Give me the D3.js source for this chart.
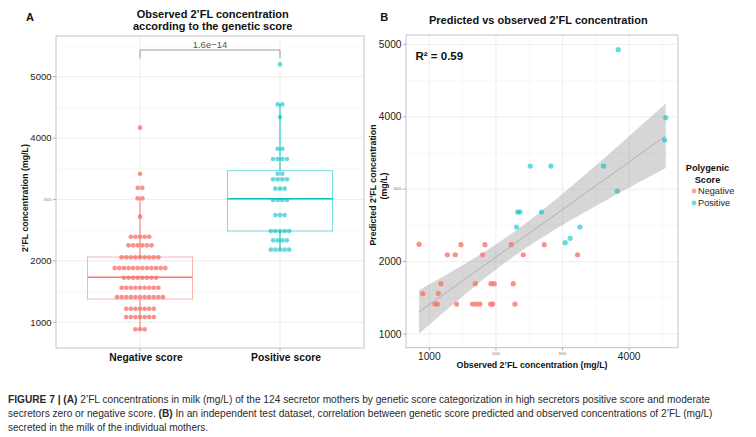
<!DOCTYPE html>
<html>
<head>
<meta charset="utf-8">
<script src="https://cdn.jsdelivr.net/npm/d3@7/dist/d3.min.js"></script>
<style>
  html, body { margin: 0; padding: 0; background: #fff; }
  svg { display: block; font-family: "Liberation Sans", Arial, Helvetica, sans-serif; }
</style>
</head>
<body>
<svg id="chart" width="756" height="437"></svg>
<script>
// ---------------- Data ----------------
// Panel A: dot-plot bins (bin centre in mg/L, number of mothers in the bin)
const groupsA = ["Negative score", "Positive score"];
const negBinValues = [4170, 3420, 3190, 3020, 2720, 2394, 2254, 2059, 1884, 1726, 1563, 1412, 1221, 1086, 886];
const negBinCounts = [1, 1, 2, 2, 1, 5, 6, 9, 12, 8, 9, 11, 7, 7, 3];
const posBinValues = [5200, 4550, 4343, 3827, 3660, 3420, 3329, 3176, 2992, 2747, 2487, 2336, 2183];
const posBinCounts = [1, 2, 1, 2, 4, 2, 4, 3, 4, 3, 5, 4, 5];
// Box statistics: [lower whisker, Q1, median, Q3, upper whisker]
const negBox = [886, 1379, 1733, 2063, 3020];
const posBox = [2183, 2487, 3013, 3470, 4550];
const pValueLabel = "1.6e\u221214";
const yTicksA = [1000, 2000, 3000, 4000, 5000];

// Panel B: observed (x) vs predicted (y) concentration
const obsNeg = [846, 901, 1270, 1390, 1475, 1175, 1135, 1085, 1120, 1410, 1800, 1835, 1690, 1650, 1710, 1760, 1925, 1975, 1920, 1950, 2230, 2260, 2285, 2410, 2725, 3225];
const predNeg = [2239, 1557, 2095, 2095, 2234, 1695, 1562, 1414, 1414, 1414, 2095, 2234, 1695, 1414, 1414, 1414, 1695, 1695, 1414, 1414, 2234, 1695, 1414, 2095, 2234, 2095];
const obsPos = [2325, 2360, 2310, 2685, 3040, 3115, 3260, 3820, 2515, 2825, 3615, 3835, 4549, 4534];
const predPos = [2685, 2685, 2478, 2685, 2261, 2322, 2478, 2975, 3320, 3320, 3320, 4927, 3988, 3680];
const xTicksB = [1000, 2000, 3000, 4000];
const yTicksB = [1000, 2000, 3000, 4000, 5000];
const legendLabels = ["Negative", "Positive"];
const r2Label = "R\u00b2 = 0.59";

// ---------------- Styles ----------------
const RED = "#F8766D", TEAL = "#00BFC4";
const GRID = "#ebebeb", GRID_MINOR = "#f4f4f4", BORDER = "#c4c4c4", TICK = "#b3b3b3";
const svg = d3.select("#chart");

function tinyOrNormal(v, tiny) { return tiny.includes(v); }

// ================= PANEL A =================
const A = { left: 56, right: 364, top: 36, bottom: 348 };
const yA = d3.scaleLinear().domain([582, 5663]).range([A.bottom, A.top]);
const xA = d3.scalePoint().domain(groupsA).range([A.left, A.right]).padding(0.6);
const boxW = xA.step() * 0.75;
const gA = svg.append("g");

// grid
const minorA = d3.range(1500, 5600, 1000);
gA.selectAll(".minA").data(minorA).join("line")
  .attr("x1", A.left).attr("x2", A.right).attr("y1", d => yA(d)).attr("y2", d => yA(d))
  .attr("stroke", GRID_MINOR).attr("stroke-width", 0.6);
gA.selectAll(".majA").data(yTicksA).join("line")
  .attr("x1", A.left).attr("x2", A.right).attr("y1", d => yA(d)).attr("y2", d => yA(d))
  .attr("stroke", GRID).attr("stroke-width", 0.9);
gA.selectAll(".vA").data(groupsA).join("line")
  .attr("x1", d => xA(d)).attr("x2", d => xA(d)).attr("y1", A.top).attr("y2", A.bottom)
  .attr("stroke", GRID).attr("stroke-width", 0.9);

// boxes (whiskers + box)
const boxes = [
  { g: groupsA[0], s: negBox, c: RED },
  { g: groupsA[1], s: posBox, c: TEAL }
];
boxes.forEach(b => {
  const cx = xA(b.g);
  gA.append("line").attr("x1", cx).attr("x2", cx).attr("y1", yA(b.s[0])).attr("y2", yA(b.s[1]))
    .attr("stroke", b.c).attr("stroke-width", 1);
  gA.append("line").attr("x1", cx).attr("x2", cx).attr("y1", yA(b.s[3])).attr("y2", yA(b.s[4]))
    .attr("stroke", b.c).attr("stroke-width", 1);
});

// dots
const pitch = 4.6, rDot = 2.35;
function dotsFor(group, vals, counts) {
  const out = [];
  vals.forEach((v, k) => {
    const n = counts[k];
    for (let i = 0; i < n; i++) out.push({ g: group, v: v, off: i - (n - 1) / 2 });
  });
  return out;
}
const dotsNeg = dotsFor(groupsA[0], negBinValues, negBinCounts);
const dotsPos = dotsFor(groupsA[1], posBinValues, posBinCounts);
gA.selectAll(".dn").data(dotsNeg).join("circle")
  .attr("cx", d => xA(d.g) + d.off * pitch).attr("cy", d => yA(d.v)).attr("r", rDot)
  .attr("fill", RED).attr("fill-opacity", 0.8);
gA.selectAll(".dp").data(dotsPos).join("circle")
  .attr("cx", d => xA(d.g) + d.off * pitch).attr("cy", d => yA(d.v)).attr("r", rDot)
  .attr("fill", TEAL).attr("fill-opacity", 0.6);

boxes.forEach(b => {
  const cx = xA(b.g);
  gA.append("rect").attr("x", cx - boxW / 2).attr("width", boxW)
    .attr("y", yA(b.s[3])).attr("height", yA(b.s[1]) - yA(b.s[3]))
    .attr("fill", "none").attr("stroke", b.c).attr("stroke-opacity", 0.55).attr("stroke-width", 1);
  gA.append("line").attr("x1", cx - boxW / 2).attr("x2", cx + boxW / 2)
    .attr("y1", yA(b.s[2])).attr("y2", yA(b.s[2]))
    .attr("stroke", b.c).attr("stroke-width", 1.4);
});

// border
gA.append("rect").attr("x", A.left).attr("y", A.top).attr("width", A.right - A.left).attr("height", A.bottom - A.top)
  .attr("fill", "none").attr("stroke", BORDER).attr("stroke-width", 1);

// significance bracket
const brY = 50, brDrop = 58.3;
const x1 = xA(groupsA[0]), x2 = xA(groupsA[1]);
gA.append("path").attr("d", `M${x1},${brDrop}V${brY}H${x2}V${brDrop}`)
  .attr("fill", "none").attr("stroke", "#9a9a9a").attr("stroke-width", 1);
gA.append("text").attr("x", (x1 + x2) / 2).attr("y", 48).attr("text-anchor", "middle")
  .attr("font-size", 9.5).attr("fill", "#555").text(pValueLabel);

// y axis A
gA.selectAll(".tkA").data(yTicksA).join("line")
  .attr("x1", A.left - 3).attr("x2", A.left).attr("y1", d => yA(d)).attr("y2", d => yA(d))
  .attr("stroke", TICK).attr("stroke-width", 1);
gA.selectAll(".tlA").data(yTicksA).join("text")
  .attr("x", A.left - 4.5).attr("y", d => yA(d)).attr("dy", "0.35em").attr("text-anchor", "end")
  .attr("font-size", d => d === 3000 ? 3.6 : 9.5).attr("fill", d => d === 3000 ? "#777" : "#222")
  .text(d => d);
// x axis A
gA.selectAll(".txA").data(groupsA).join("line")
  .attr("x1", d => xA(d)).attr("x2", d => xA(d)).attr("y1", A.bottom).attr("y2", A.bottom + 3)
  .attr("stroke", TICK);
gA.selectAll(".xlA").data(groupsA).join("text")
  .attr("x", d => xA(d) + 6).attr("y", 360.5).attr("text-anchor", "middle")
  .attr("font-size", 10.3).attr("font-weight", "bold").attr("fill", "#111").text(d => d);
// axis title
gA.append("text").attr("transform", "translate(28,198) rotate(-90)").attr("text-anchor", "middle")
  .attr("font-size", 8.8).attr("font-weight", "bold").attr("fill", "#111")
  .text("2\u2019FL concentration (mg/L)");
// titles
gA.append("text").attr("x", 212.7).attr("y", 18).attr("text-anchor", "middle")
  .attr("font-size", 11).attr("font-weight", "bold").attr("fill", "#111").text("Observed 2\u2019FL concentration");
gA.append("text").attr("x", 212.7).attr("y", 30).attr("text-anchor", "middle")
  .attr("font-size", 11).attr("font-weight", "bold").attr("fill", "#111").text("according to the genetic score");
gA.append("text").attr("x", 30).attr("y", 20.5).attr("text-anchor", "middle")
  .attr("font-size", 11).attr("font-weight", "bold").attr("fill", "#111").text("A");

// ================= PANEL B =================
const B = { left: 406, right: 678, top: 35, bottom: 347.7 };
const xB = d3.scaleLinear().domain([650, 4733]).range([B.left, B.right]);
const yB = d3.scaleLinear().domain([811, 5130]).range([B.bottom, B.top]);
const gB = svg.append("g");

const minorXB = d3.range(1500, 4600, 1000);
const minorYB = d3.range(1500, 4600, 1000);
gB.selectAll(".mxB").data(minorXB).join("line")
  .attr("x1", d => xB(d)).attr("x2", d => xB(d)).attr("y1", B.top).attr("y2", B.bottom)
  .attr("stroke", GRID_MINOR).attr("stroke-width", 0.6);
gB.selectAll(".myB").data(minorYB).join("line")
  .attr("y1", d => yB(d)).attr("y2", d => yB(d)).attr("x1", B.left).attr("x2", B.right)
  .attr("stroke", GRID_MINOR).attr("stroke-width", 0.6);
gB.selectAll(".gxB").data(xTicksB).join("line")
  .attr("x1", d => xB(d)).attr("x2", d => xB(d)).attr("y1", B.top).attr("y2", B.bottom)
  .attr("stroke", GRID).attr("stroke-width", 0.9);
gB.selectAll(".gyB").data(yTicksB).join("line")
  .attr("y1", d => yB(d)).attr("y2", d => yB(d)).attr("x1", B.left).attr("x2", B.right)
  .attr("stroke", GRID).attr("stroke-width", 0.9);

// linear regression with 95% CI (predicted ~ observed)
const allX = obsNeg.concat(obsPos), allY = predNeg.concat(predPos);
const n = allX.length;
const xbar = d3.mean(allX), ybar = d3.mean(allY);
let sxx = 0, sxy = 0;
for (let i = 0; i < n; i++) { sxx += (allX[i] - xbar) ** 2; sxy += (allX[i] - xbar) * (allY[i] - ybar); }
const slope = sxy / sxx, intercept = ybar - slope * xbar;
let sse = 0;
for (let i = 0; i < n; i++) sse += (allY[i] - (intercept + slope * allX[i])) ** 2;
const sRes = Math.sqrt(sse / (n - 2));
const tCrit = 2.024;
const xmin = d3.min(allX), xmax = d3.max(allX);
const fitPts = d3.range(0, 81).map(i => {
  const x = xmin + (xmax - xmin) * i / 80;
  const f = intercept + slope * x;
  const se = sRes * Math.sqrt(1 / n + (x - xbar) ** 2 / sxx);
  return { x, f, lo: f - tCrit * se, hi: f + tCrit * se };
});
gB.append("path").datum(fitPts)
  .attr("d", d3.area().x(d => xB(d.x)).y0(d => yB(d.lo)).y1(d => yB(d.hi)))
  .attr("fill", "#999").attr("fill-opacity", 0.4);
gB.append("path").datum(fitPts)
  .attr("d", d3.line().x(d => xB(d.x)).y(d => yB(d.f)))
  .attr("fill", "none").attr("stroke", "#b0b0b0").attr("stroke-width", 1);

// points
gB.selectAll(".pn").data(obsNeg.map((x, i) => [x, predNeg[i]])).join("circle")
  .attr("cx", d => xB(d[0])).attr("cy", d => yB(d[1])).attr("r", 2.6)
  .attr("fill", RED).attr("fill-opacity", 0.8);
gB.selectAll(".pp").data(obsPos.map((x, i) => [x, predPos[i]])).join("circle")
  .attr("cx", d => xB(d[0])).attr("cy", d => yB(d[1])).attr("r", 2.6)
  .attr("fill", TEAL).attr("fill-opacity", 0.6);

// border
gB.append("rect").attr("x", B.left).attr("y", B.top).attr("width", B.right - B.left).attr("height", B.bottom - B.top)
  .attr("fill", "none").attr("stroke", BORDER).attr("stroke-width", 1);

// axes B
gB.selectAll(".tyB").data(yTicksB).join("line")
  .attr("x1", B.left - 3).attr("x2", B.left).attr("y1", d => yB(d)).attr("y2", d => yB(d)).attr("stroke", TICK);
gB.selectAll(".lyB").data(yTicksB).join("text")
  .attr("x", B.left - 4.5).attr("y", d => yB(d)).attr("dy", "0.35em").attr("text-anchor", "end")
  .attr("font-size", d => d === 3000 ? 3.6 : 10.2).attr("fill", d => d === 3000 ? "#777" : "#222").text(d => d);
gB.selectAll(".txB").data(xTicksB).join("line")
  .attr("x1", d => xB(d)).attr("x2", d => xB(d)).attr("y1", B.bottom).attr("y2", B.bottom + 3).attr("stroke", TICK);
gB.selectAll(".lxB").data(xTicksB).join("text")
  .attr("x", d => xB(d)).attr("y", d => (d === 2000 || d === 3000) ? 354.5 : 359.8).attr("text-anchor", "middle")
  .attr("font-size", d => (d === 2000 || d === 3000) ? 3.6 : 10.2)
  .attr("fill", d => (d === 2000 || d === 3000) ? "#777" : "#222").text(d => d);
gB.append("text").attr("x", 532).attr("y", 367.5).attr("text-anchor", "middle")
  .attr("font-size", 8.8).attr("font-weight", "bold").attr("fill", "#111")
  .text("Observed 2\u2019FL concentration (mg/L)");
gB.append("text").attr("transform", "translate(376,185) rotate(-90)").attr("text-anchor", "middle")
  .attr("font-size", 8.8).attr("font-weight", "bold").attr("fill", "#111")
  .text("Predicted 2\u2019FL concentration");
gB.append("text").attr("transform", "translate(386.5,186) rotate(-90)").attr("text-anchor", "middle")
  .attr("font-size", 8.8).attr("font-weight", "bold").attr("fill", "#111").text("(mg/L)");

// title, label, R2
gB.append("text").attr("x", 538.3).attr("y", 24).attr("text-anchor", "middle")
  .attr("font-size", 11).attr("font-weight", "bold").attr("fill", "#111")
  .text("Predicted vs observed 2\u2019FL concentration");
gB.append("text").attr("x", 384.3).attr("y", 20.5).attr("text-anchor", "middle")
  .attr("font-size", 11).attr("font-weight", "bold").attr("fill", "#111").text("B");
gB.append("text").attr("x", 415.5).attr("y", 60).attr("font-size", 11.5).attr("font-weight", "bold")
  .attr("fill", "#111").text(r2Label);

// legend
const lg = svg.append("g");
lg.append("text").attr("x", 707.5).attr("y", 170.5).attr("text-anchor", "middle")
  .attr("font-size", 9.2).attr("font-weight", "bold").attr("fill", "#111").text("Polygenic");
lg.append("text").attr("x", 707.5).attr("y", 182.5).attr("text-anchor", "middle")
  .attr("font-size", 9.2).attr("font-weight", "bold").attr("fill", "#111").text("Score");
const legColors = [RED, TEAL];
lg.selectAll(".lgd").data(legendLabels).join("circle")
  .attr("cx", 694).attr("cy", (d, i) => 191 + i * 12).attr("r", 2.4)
  .attr("fill", (d, i) => legColors[i]).attr("fill-opacity", (d, i) => i === 0 ? 0.65 : 0.55);
lg.selectAll(".lgt").data(legendLabels).join("text")
  .attr("x", 698).attr("y", (d, i) => 194.3 + i * 12)
  .attr("font-size", 9.2).attr("fill", "#222").text(d => d);

// caption
const cap = svg.append("g").attr("font-family", "'Liberation Sans Narrow', 'Arial Narrow', 'Liberation Sans', sans-serif")
  .attr("font-size", 10).attr("fill", "#2a2a2a");
const l1 = cap.append("text").attr("x", 8).attr("y", 402.5).attr("textLength", 702).attr("lengthAdjust", "spacingAndGlyphs");
l1.append("tspan").attr("font-weight", "bold").text("FIGURE 7 | (A)");
l1.append("tspan").text(" 2\u2019FL concentrations in milk (mg/L) of the 124 secretor mothers by genetic score categorization in high secretors positive score and moderate");
const l2 = cap.append("text").attr("x", 8).attr("y", 417).attr("textLength", 704.5).attr("lengthAdjust", "spacingAndGlyphs");
l2.append("tspan").text("secretors zero or negative score. ");
l2.append("tspan").attr("font-weight", "bold").text("(B)");
l2.append("tspan").text(" In an independent test dataset, correlation between genetic score predicted and observed concentrations of 2\u2019FL (mg/L)");
cap.append("text").attr("x", 8).attr("y", 431).text("secreted in the milk of the individual mothers.");
</script>
</body>
</html>
